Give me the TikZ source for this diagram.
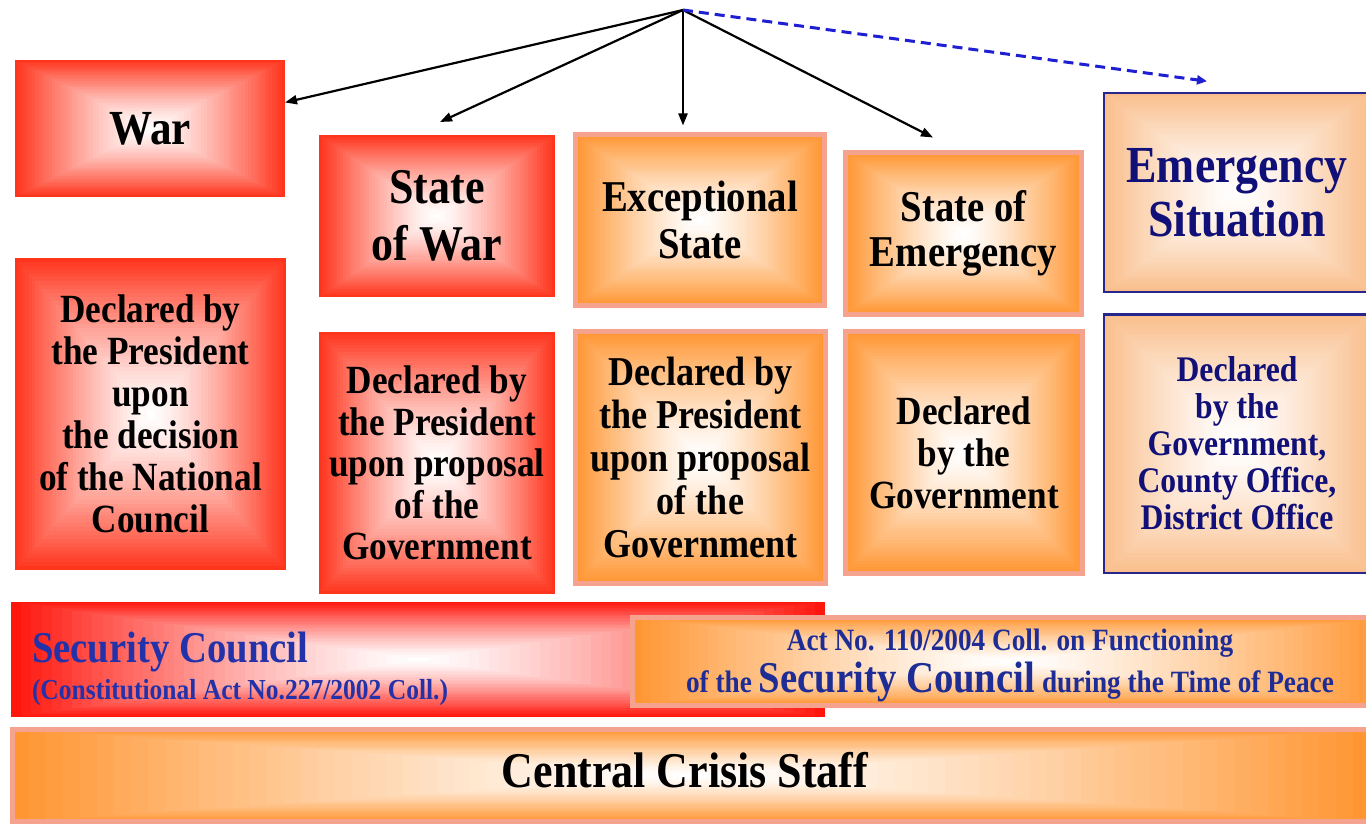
\documentclass[tikz,border=0pt]{standalone}
\usepackage{fontspec}
\newfontfamily\cf{Liberation Serif}[FakeStretch=0.88]
\usetikzlibrary{calc,arrows.meta}
\definecolor{redE}{RGB}{255,52,28}
\definecolor{scred}{RGB}{255,22,12}
\definecolor{orgE}{RGB}{255,150,50}
\definecolor{salmon}{RGB}{245,162,142}
\definecolor{peachE}{RGB}{250,190,140}
\definecolor{bluB}{RGB}{38,38,140}
\definecolor{navyT}{RGB}{16,16,120}
\definecolor{scblue}{RGB}{36,50,170}
\definecolor{actblue}{RGB}{30,45,150}
\definecolor{dashblue}{RGB}{30,30,210}
\newcommand\gradfill[2]{%
  \foreach \gi in {0,...,39}{%
    \pgfmathsetmacro\gf{\gi/80}%
    \pgfmathtruncatemacro\gp{100*(1-\gi/40)^1.3}%
    \fill[#1!\gp!#2] ($(path picture bounding box.south west)!\gf!(path picture bounding box.north east)$) rectangle ($(path picture bounding box.north east)!\gf!(path picture bounding box.south west)$);
  }%
}
\tikzset{
  basebox/.style={inner sep=0pt, outer sep=0pt, align=center, text=black},
  redbox/.style={basebox, path picture={\gradfill{redE}{white}}},
  orgbox/.style={basebox, draw=salmon, line width=5pt, path picture={\gradfill{orgE}{white}}},
  peachbox/.style={basebox, draw=bluB, line width=2.5pt, text=navyT, path picture={\gradfill{peachE}{white}}},
  scbox/.style={basebox, path picture={\gradfill{scred}{white}}},
  conn/.style={draw=black, line width=2.2pt, -{Triangle[length=12pt,width=9pt]}},
  dconn/.style={draw=dashblue, line width=3pt, dash pattern=on 10pt off 6pt, -{Triangle[length=10pt,width=9pt]}},
}
\begin{document}
\begin{tikzpicture}[x=1pt,y=-1pt]
\useasboundingbox[fill=white] (0,0) rectangle (1366,829);
% top row
\node[redbox, minimum width=270pt, minimum height=137pt, font=\cf\bfseries\fontsize{49}{52}\selectfont] (war) at (150,128.5) {War};
\node[redbox, minimum width=236pt, minimum height=162pt, font=\cf\bfseries\fontsize{50}{57}\selectfont] (sow) at (437,216) {State\\of War};
\node[orgbox, minimum width=249pt, minimum height=171pt, font=\cf\bfseries\fontsize{44}{47}\selectfont] (es) at (700,220) {Exceptional\\State};
\node[orgbox, minimum width=236pt, minimum height=162pt, font=\cf\bfseries\fontsize{44}{45}\selectfont] (soe) at (963.5,233.5) {State of\\Emergency};
\node[peachbox, minimum width=266pt, minimum height=198.5pt, font=\cf\bfseries\fontsize{52}{54}\selectfont] (esit) at (1237,192.5) {Emergency\\Situation};
% second row
\node[redbox, minimum width=271pt, minimum height=312pt, font=\cf\bfseries\fontsize{40}{42}\selectfont] (warD) at (150.5,414) {Declared by\\the President\\upon\\the decision\\of the National\\Council};
\node[redbox, minimum width=236pt, minimum height=262pt, font=\cf\bfseries\fontsize{40}{41.5}\selectfont] (sowD) at (437,463) {Declared by\\the President\\upon proposal\\of the\\Government};
\node[orgbox, minimum width=250pt, minimum height=252pt, font=\cf\bfseries\fontsize{41}{43}\selectfont] (esD) at (700.5,457.5) {Declared by\\the President\\upon proposal\\of the\\Government};
\node[orgbox, minimum width=237pt, minimum height=242pt, font=\cf\bfseries\fontsize{40}{42}\selectfont] (soeD) at (964,452.5) {Declared\\by the\\Government};
\node[peachbox, minimum width=266pt, minimum height=258.5pt, font=\cf\bfseries\fontsize{36}{37}\selectfont] (esitD) at (1237,443.5) {Declared\\by the\\Government,\\County Office,\\District Office};
% security council
\node[scbox, minimum width=814pt, minimum height=115pt] (sc) at (418,659.5) {};
\node[basebox, anchor=base west, text=scblue, font=\cf\bfseries\fontsize{44}{44}\selectfont] (sct) at (32,662) {Security Council};
\node[basebox, anchor=base west, text=scblue, font=\cf\bfseries\fontsize{29}{29}\selectfont] (scl) at (32,699) {(Constitutional Act No.227/2002 Coll.)};
\node[orgbox, minimum width=755pt, minimum height=88pt] (act) at (1010,661.5) {};
\node[basebox, anchor=base, text=actblue, font=\cf\bfseries\fontsize{31}{31}\selectfont] (act1) at (1010,650) {Act No. 110/2004 Coll. on Functioning};
\node[basebox, anchor=base, text=actblue, font=\cf\bfseries\fontsize{31}{31}\selectfont] (act2) at (1010,692) {of the {\fontsize{44}{44}\selectfont Security Council} during the Time of Peace};
% central crisis staff
\node[orgbox, minimum width=1357pt, minimum height=92pt] (ccs) at (691,775.5) {};
\node[basebox, anchor=base, font=\cf\bfseries\fontsize{50}{50}\selectfont] (ccst) at (685,787) {Central Crisis Staff};
% connectors
\coordinate (hub) at (683,10);
\draw[conn] (hub) -- ($(war.north east)!0.31!(war.south east)$);
\draw[conn] (hub) -- ([xshift=3pt,yshift=13pt]sow.north);
\draw[conn, shorten >=9pt] (hub) -- (hub |- es.north);
\draw[conn] (hub) -- ([xshift=-30.5pt,yshift=15pt]soe.north);
\draw[dconn] (hub) -- ([xshift=-30pt,yshift=12pt]esit.north);
\end{tikzpicture}
\end{document}
